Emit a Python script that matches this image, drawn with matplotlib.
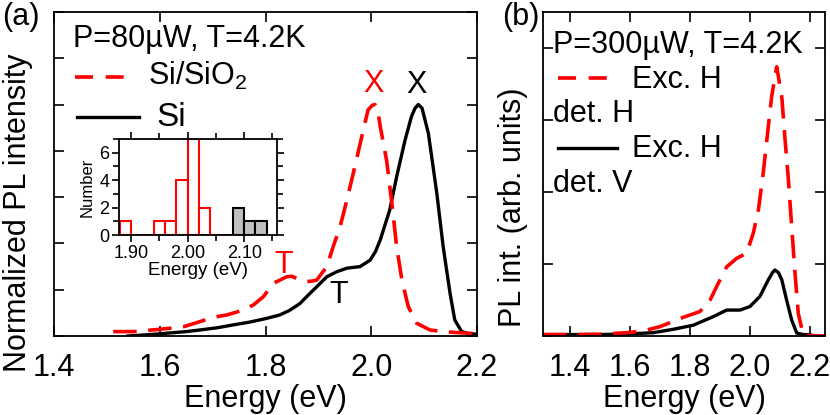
import numpy as np
import matplotlib
matplotlib.use("Agg")
import matplotlib.pyplot as plt
from matplotlib.ticker import MultipleLocator

plt.rcParams['font.family'] = ['Liberation Sans', 'DejaVu Sans']
plt.rcParams['mathtext.fontset'] = 'custom'
plt.rcParams['mathtext.rm'] = 'Liberation Sans'
plt.rcParams['font.size'] = 22

# ---- panel (a): normalized PL spectra ----
si_x = [1.54, 1.58, 1.613, 1.65, 1.676, 1.71, 1.739, 1.77, 1.802, 1.827, 1.845,
        1.865, 1.88, 1.897, 1.916, 1.935, 1.954, 1.979, 1.998, 2.008, 2.017, 2.035,
        2.048, 2.064, 2.076, 2.083, 2.089, 2.096, 2.108, 2.124, 2.136, 2.149,
        2.158, 2.171, 2.185, 2.2]
si_y = [0.0, 0.006, 0.012, 0.019, 0.026, 0.036, 0.048, 0.06, 0.076, 0.091, 0.11,
        0.14, 0.175, 0.213, 0.256, 0.278, 0.293, 0.30, 0.328, 0.365, 0.415, 0.545,
        0.688, 0.847, 0.948, 0.985, 1.0, 0.985, 0.876, 0.617, 0.386, 0.185,
        0.069, 0.019, 0.01, 0.008]

sio2_x = [1.512, 1.55, 1.6, 1.645, 1.676, 1.701, 1.727, 1.758, 1.777, 1.796,
          1.815, 1.84, 1.85, 1.859, 1.878, 1.89, 1.897, 1.916, 1.928, 1.941,
          1.954, 1.969, 1.982, 1.994, 2.002, 2.007, 2.012, 2.017, 2.029, 2.039,
          2.048, 2.058, 2.07, 2.086, 2.111, 2.136, 2.16, 2.2]
sio2_y = [0.019, 0.019, 0.029, 0.040, 0.062, 0.081, 0.091, 0.112, 0.134, 0.17,
          0.228, 0.256, 0.258, 0.249, 0.235, 0.238, 0.242, 0.30, 0.386, 0.472,
          0.588, 0.732, 0.861, 0.977, 0.997, 1.0, 0.98, 0.905, 0.76, 0.573,
          0.386, 0.242, 0.127, 0.055, 0.026, 0.019, 0.015, 0.01]

# inset histogram
bin_left = [1.88, 1.90, 1.92, 1.94, 1.96, 1.98, 2.00, 2.02, 2.04, 2.06]
counts_red = [1, 0, 0, 1, 1, 4, 7, 2, 0, 0]
gray_left = [2.08, 2.10, 2.12]
counts_gray = [2, 1, 1]
bin_w = 0.02

# ---- panel (b): polarization resolved ----
hh_x = [1.31, 1.4, 1.5, 1.589, 1.644, 1.7, 1.778, 1.833, 1.867, 1.894, 1.922,
        1.956, 1.989, 2.011, 2.028, 2.044, 2.056, 2.072, 2.089, 2.106, 2.117,
        2.128, 2.139, 2.15, 2.161, 2.178, 2.25]
hh_y = [0.02, 0.02, 0.025, 0.046, 0.07, 0.13, 0.26, 0.34, 0.5, 0.73, 0.96,
        1.08, 1.15, 1.43, 1.75, 2.26, 2.72, 3.32, 3.74, 3.32, 2.72,
        2.17, 1.52, 0.87, 0.31, 0.01, 0.0]

hv_x = [1.31, 1.4, 1.5, 1.6, 1.678, 1.744, 1.811, 1.878, 1.922, 1.967, 2.0,
        2.033, 2.061, 2.075, 2.083, 2.095, 2.106, 2.122, 2.139, 2.156, 2.178, 2.2]
hv_y = [0.02, 0.02, 0.02, 0.03, 0.046, 0.093, 0.15, 0.27, 0.36, 0.36, 0.41,
        0.55, 0.78, 0.88, 0.917, 0.88, 0.78, 0.5, 0.22, 0.04, 0.02, 0.02]

W, H = 830, 415
fig = plt.figure(figsize=(W / 100, H / 100), dpi=100)


def box(l, t, r, b):
    return [l / W, 1 - b / H, (r - l) / W, (b - t) / H]


dash = (6.5, 3.2)

ax = fig.add_axes(box(54, 12, 477, 336))
ax.plot(si_x, si_y, color='black', lw=2.4)
ax.plot(sio2_x, sio2_y, color='red', lw=2.6, dashes=dash)
ax.set_xlim(1.4, 2.2)
ax.set_ylim(0, 1.4)
ax.xaxis.set_major_locator(MultipleLocator(0.2))
ax.yaxis.set_major_locator(MultipleLocator(0.2))
ax.set_yticklabels([])
ax.tick_params(direction='in', length=7, width=1.2, top=True, right=True, pad=12)
ax.set_xlabel('Energy (eV)', labelpad=1)
ax.set_ylabel('Normalized PL intensity')
ax.yaxis.set_label_coords(-0.05, 0.38)
for s in ax.spines.values():
    s.set_linewidth(1.3)

ax.text(2.005, 1.089, 'X', color='red', ha='center', va='center')
ax.text(2.086, 1.085, 'X', color='black', ha='center', va='center')
ax.text(1.834, 0.307, 'T', color='red', ha='center', va='center')
ax.text(1.938, 0.177, 'T', color='black', ha='center', va='center')

ta = ax.transAxes
ax.text(0.045, 0.892, 'P=80\u00b5W, T=4.2K', transform=ta, va='baseline')
ax.plot([0.05, 0.191], [0.8, 0.8], transform=ta, color='red', lw=2.6, dashes=(5, 3.5))
ax.text(0.222, 0.775, 'Si/SiO$_\\mathregular{2}$', transform=ta, va='baseline')
ax.plot([0.054, 0.2], [0.676, 0.676], transform=ta, color='black', lw=2.4)
ax.text(0.243, 0.648, 'Si', transform=ta, va='baseline', fontsize=24)

# inset
ins = fig.add_axes(box(119, 139, 277, 235))
ins.bar(bin_left, counts_red, width=bin_w, align='edge', facecolor='white',
        edgecolor='red', lw=1.5)
ins.bar(gray_left, counts_gray, width=bin_w, align='edge', facecolor='#c0c0c0',
        edgecolor='black', lw=1.5)
ins.set_xlim(1.879, 2.158)
ins.set_ylim(0, 7)
ins.xaxis.set_major_locator(MultipleLocator(0.1))
ins.xaxis.set_minor_locator(MultipleLocator(0.05))
ins.yaxis.set_major_locator(MultipleLocator(2))
ins.yaxis.set_minor_locator(MultipleLocator(1))
ins.xaxis.set_major_formatter(matplotlib.ticker.FormatStrFormatter('%.2f'))
ins.tick_params(which='both', direction='out', top=True, right=True, labelsize=13,
                width=1.2, pad=2)
ins.tick_params(which='major', length=5)
ins.tick_params(which='minor', length=4)
ins.set_xlabel('Energy (eV)', fontsize=13.5, labelpad=0)
ins.set_ylabel('Number', fontsize=12, labelpad=3)
for s in ins.spines.values():
    s.set_linewidth(1.3)

# panel (b)
bx = fig.add_axes(box(543, 12, 825, 336))
bx.plot(hv_x, hv_y, color='black', lw=2.4)
bx.plot(hh_x, hh_y, color='red', lw=2.6, dashes=dash)
bx.set_xlim(1.31, 2.25)
bx.set_ylim(0, 4.5)
bx.xaxis.set_major_locator(MultipleLocator(0.2))
bx.yaxis.set_major_locator(MultipleLocator(1))
bx.set_yticklabels([])
bx.tick_params(direction='in', length=7, width=1.2, top=True, right=True, pad=12)
bx.set_xlabel('Energy (eV)', labelpad=1)
bx.set_ylabel('PL int. (arb. units)')
bx.yaxis.set_label_coords(-0.053, 0.398)
for s in bx.spines.values():
    s.set_linewidth(1.3)

tb = bx.transAxes
bx.text(0.035, 0.873, 'P=300\u00b5W, T=4.2K', transform=tb, va='baseline')
bx.plot([0.053, 0.262], [0.796, 0.796], transform=tb, color='red', lw=2.6, dashes=(5, 3.5))
bx.text(0.316, 0.765, 'Exc. H', transform=tb, va='baseline')
bx.text(0.035, 0.66, 'det. H', transform=tb, va='baseline')
bx.plot([0.053, 0.262], [0.58, 0.58], transform=tb, color='black', lw=2.4)
bx.text(0.316, 0.552, 'Exc. H', transform=tb, va='baseline')
bx.text(0.035, 0.444, 'det. V', transform=tb, va='baseline')

fig.text(2 / W, 1 - 17 / H, '(a)', va='center', ha='left')
fig.text(502 / W, 1 - 17 / H, '(b)', va='center', ha='left')

fig.savefig('out.png', dpi=100)
